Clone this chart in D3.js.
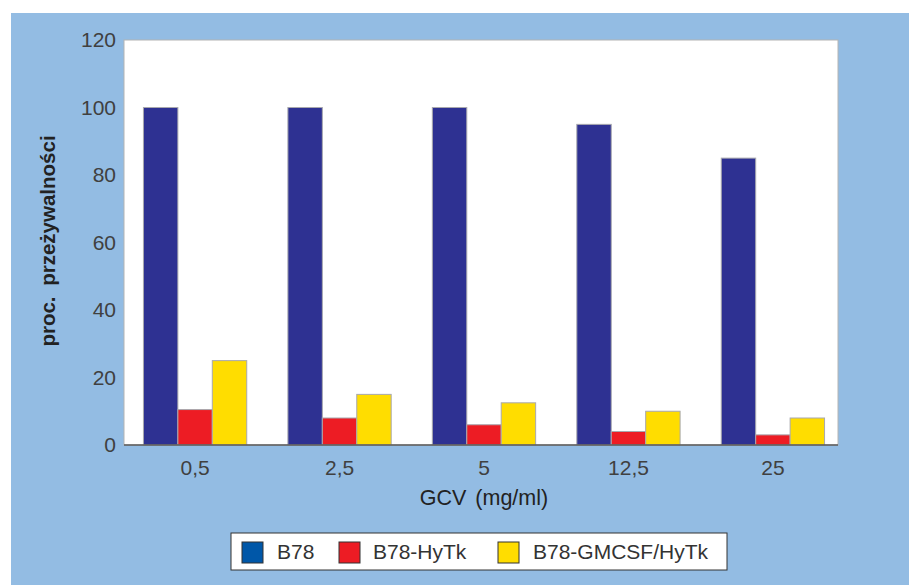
<!DOCTYPE html>
<html>
<head>
<meta charset="utf-8">
<script src="https://cdn.jsdelivr.net/npm/d3@7"></script>
<style>
  html, body { margin: 0; padding: 0; background: #ffffff; }
  svg { display: block; }
  text { font-family: "Liberation Sans", Arial, Helvetica, sans-serif; }
</style>
</head>
<body>
<svg id="chart" width="909" height="585"></svg>
<script>
// Survival (%) of B78 melanoma lines after ganciclovir treatment
const categories = ["0,5", "2,5", "5", "12,5", "25"];
const seriesNames = ["B78", "B78-HyTk", "B78-GMCSF/HyTk"];
const b78 = [100, 100, 100, 95, 85];
const b78HyTk = [10.5, 8, 6, 4, 3];
const b78GmcsfHyTk = [25, 15, 12.5, 10, 8];
const yTicks = [0, 20, 40, 60, 80, 100, 120];

const seriesValues = [b78, b78HyTk, b78GmcsfHyTk];
const barColors = ["#2e3192", "#ed1c24", "#ffdd00"];
const legendColors = ["#0057a8", "#ed1c24", "#ffdd00"];

const svg = d3.select("#chart");

// blue page panel
svg.append("rect")
  .attr("x", 11).attr("y", 13)
  .attr("width", 909 - 11).attr("height", 585 - 13)
  .attr("fill", "#93bce3");

const plot = { left: 124, top: 40, right: 838, bottom: 445 };

// white plot area with thin grey frame
svg.append("rect")
  .attr("x", plot.left).attr("y", plot.top)
  .attr("width", plot.right - plot.left).attr("height", plot.bottom - plot.top)
  .attr("fill", "#ffffff")
  .attr("stroke", "#b4b4b4").attr("stroke-width", 1);

const y = d3.scaleLinear().domain([0, 120]).range([plot.bottom, plot.top]);

const x0 = d3.scaleBand()
  .domain(categories)
  .range([129, 839])
  .paddingInner(0.285)
  .paddingOuter(0.1);

const x1 = d3.scaleBand()
  .domain(seriesNames)
  .range([0, x0.bandwidth()])
  .padding(0);

// bars
const groups = svg.append("g").selectAll("g")
  .data(categories)
  .join("g")
  .attr("transform", d => `translate(${x0(d)},0)`);

groups.selectAll("rect")
  .data((c, i) => seriesNames.map((s, k) => ({ s, k, v: seriesValues[k][i] })))
  .join("rect")
  .attr("x", d => x1(d.s))
  .attr("y", d => y(d.v))
  .attr("width", x1.bandwidth())
  .attr("height", d => y(0) - y(d.v))
  .attr("fill", d => barColors[d.k])
  .attr("stroke", "#a8a8ae")
  .attr("stroke-width", 1);

// baseline
svg.append("line")
  .attr("x1", plot.left).attr("x2", plot.right)
  .attr("y1", plot.bottom).attr("y2", plot.bottom)
  .attr("stroke", "#5a5a5a").attr("stroke-width", 1.5);

// y axis labels
const yAxis = d3.axisLeft(y).tickValues(yTicks).tickSize(0).tickPadding(8);
const gy = svg.append("g").attr("transform", `translate(${plot.left},0)`).call(yAxis);
gy.select(".domain").remove();
gy.selectAll("text")
  .attr("font-size", 21)
  .attr("font-family", "'Liberation Sans', Arial, sans-serif")
  .attr("fill", "#404040");

// x axis labels
const xAxis = d3.axisBottom(x0).tickSize(0).tickPadding(15);
const gx = svg.append("g").attr("transform", `translate(0,${plot.bottom})`).call(xAxis);
gx.select(".domain").remove();
gx.selectAll("text")
  .attr("font-size", 21)
  .attr("font-family", "'Liberation Sans', Arial, sans-serif")
  .attr("fill", "#404040");

// axis titles
svg.append("text")
  .attr("x", 484).attr("y", 505)
  .attr("text-anchor", "middle")
  .attr("font-size", 21.5)
  .attr("fill", "#222")
  .style("word-spacing", "3px")
  .text("GCV (mg/ml)");

svg.append("text")
  .attr("transform", "translate(55,241) rotate(-90)")
  .attr("text-anchor", "middle")
  .attr("font-size", 20.5)
  .attr("font-weight", "bold")
  .attr("fill", "#222")
  .style("word-spacing", "5px")
  .text("proc. przeżywalności");

// legend
const legend = svg.append("g");
legend.append("rect")
  .attr("x", 231).attr("y", 533)
  .attr("width", 496).attr("height", 37)
  .attr("fill", "#ffffff")
  .attr("stroke", "#333").attr("stroke-width", 1);

const swatchX = [242, 339, 498];
const labelX = [277, 373, 533];
seriesNames.forEach((s, k) => {
  legend.append("rect")
    .attr("x", swatchX[k]).attr("y", 542)
    .attr("width", 21).attr("height", 21)
    .attr("fill", legendColors[k])
    .attr("stroke", "#333").attr("stroke-width", 1);
  legend.append("text")
    .attr("x", labelX[k]).attr("y", 559)
    .attr("font-size", 21)
    .attr("fill", "#333")
    .text(s);
});
</script>
</body>
</html>
